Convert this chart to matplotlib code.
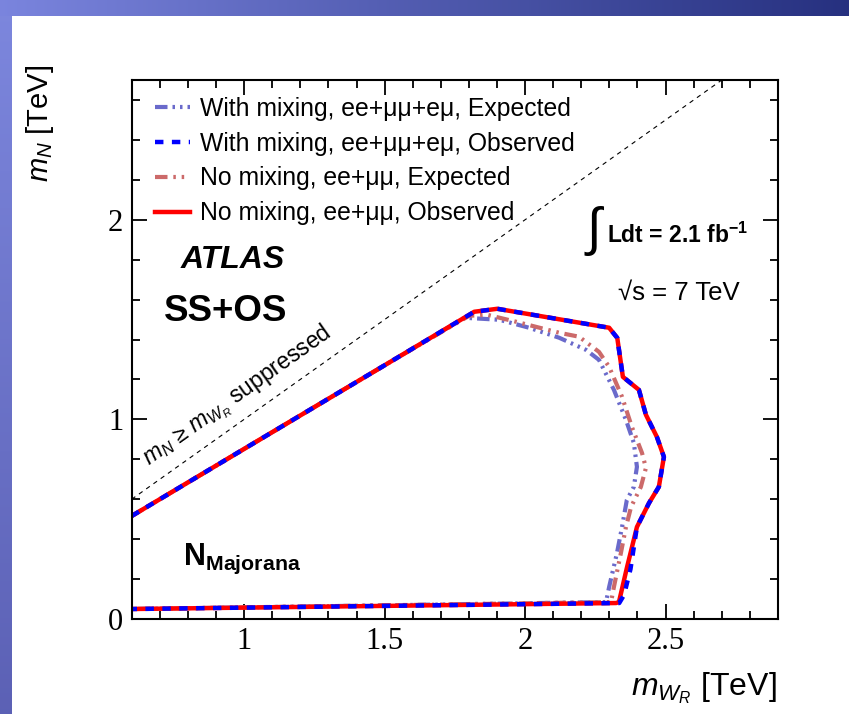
import numpy as np
import matplotlib
import matplotlib.pyplot as plt
from matplotlib.lines import Line2D

plt.switch_backend('agg')

plt.rcParams['font.family'] = ['Liberation Sans', 'DejaVu Sans']
plt.rcParams['mathtext.fontset'] = 'custom'
plt.rcParams['mathtext.rm'] = 'Liberation Sans'
plt.rcParams['mathtext.it'] = 'Liberation Sans:italic'
plt.rcParams['mathtext.bf'] = 'Liberation Sans:bold'

# exclusion contours in the (m_WR, m_N) plane, TeV
mix_obs_x = [0.60, 1.00, 1.50, 1.819, 1.901, 2.299, 2.328, 2.348, 2.405, 2.430, 2.469,
             2.494, 2.476, 2.441, 2.398, 2.375, 2.352, 2.335, 0.60]
mix_obs_y = [0.516, 0.852, 1.271, 1.539, 1.554, 1.459, 1.408, 1.213, 1.148, 1.023, 0.912,
             0.812, 0.662, 0.581, 0.461, 0.250, 0.120, 0.080, 0.050]

nomix_obs_x = [0.60, 1.00, 1.50, 1.819, 1.901, 2.299, 2.328, 2.348, 2.405, 2.430, 2.469,
               2.494, 2.476, 2.441, 2.398, 2.363, 2.334, 2.324, 0.60]
nomix_obs_y = [0.516, 0.852, 1.271, 1.539, 1.554, 1.459, 1.408, 1.213, 1.148, 1.023, 0.912,
               0.812, 0.662, 0.581, 0.461, 0.261, 0.085, 0.080, 0.050]

mix_exp_x = [0.60, 1.00, 1.50, 1.784, 1.908, 2.014, 2.121, 2.217, 2.263, 2.316, 2.359,
             2.387, 2.398, 2.387, 2.362, 2.345, 2.327, 2.299, 2.288, 0.60]
mix_exp_y = [0.516, 0.852, 1.271, 1.509, 1.499, 1.459, 1.409, 1.348, 1.298, 1.148, 0.997,
             0.882, 0.762, 0.662, 0.596, 0.461, 0.331, 0.160, 0.085, 0.050]

nomix_exp_x = [0.60, 1.00, 1.50, 1.801, 1.865, 1.968, 2.121, 2.192, 2.263, 2.299, 2.345,
               2.380, 2.416, 2.430, 2.412, 2.377, 2.359, 2.341, 2.316, 2.306, 0.60]
nomix_exp_y = [0.516, 0.852, 1.271, 1.519, 1.524, 1.489, 1.434, 1.414, 1.338, 1.263, 1.113,
               0.962, 0.832, 0.757, 0.662, 0.561, 0.461, 0.331, 0.160, 0.085, 0.050]

diag = [0.6, 2.7]

labels = ['With mixing, ee+μμ+eμ, Expected',
          'With mixing, ee+μμ+eμ, Observed',
          'No mixing, ee+μμ, Expected',
          'No mixing, ee+μμ, Observed']

fig = plt.figure(figsize=(8.49, 7.14), dpi=100)

# slide frame: gradient band on top and strip on the left
W, H = 849, 714
bg = np.ones((H, W, 3))
t = np.linspace(0, 1, W)[:, None]
bg[:16, :, :] = (np.array([0.48, 0.52, 0.87]) * (1 - t) + np.array([0.15, 0.19, 0.50]) * t)[None, :, :]
s = np.linspace(0, 1, H)[:, None]
bg[16:, :12, :] = ((np.array([0.49, 0.53, 0.87]) * (1 - s) + np.array([0.36, 0.38, 0.71]) * s)[16:, None, :])
bgax = fig.add_axes([0, 0, 1, 1], zorder=-1)
bgax.imshow(bg, aspect='auto', interpolation='bilinear')
bgax.axis('off')

ax = fig.add_axes([131.7 / W, 1 - 619 / H, (778 - 131.7) / W, (619 - 80) / H])

c_mix_exp = '#6a6acb'
c_nomix_exp = '#cc6a6a'
ls_mix_exp = (0, (3.0, 1.2, 0.6, 1.2, 0.6, 1.2, 0.6, 1.2))
ls_nomix_exp = (0, (3.0, 1.4, 0.6, 1.4, 0.6, 1.4))
ls_mix_obs = (0, (1.9, 1.9))

ax.plot(diag, diag, color='k', lw=0.8, ls=(0, (4, 4)))
ax.plot(mix_exp_x, mix_exp_y, color=c_mix_exp, lw=3.0, ls=ls_mix_exp)
ax.plot(nomix_exp_x, nomix_exp_y, color=c_nomix_exp, lw=3.0, ls=ls_nomix_exp)
ax.plot(nomix_obs_x, nomix_obs_y, color='#ff0000', lw=3.2)
ax.plot(mix_obs_x, mix_obs_y, color='#0000ff', lw=3.2, ls=ls_mix_obs)

ax.set_xlim(0.6, 2.9)
ax.set_ylim(0, 2.7)
ax.set_xticks([1, 1.5, 2, 2.5])
ax.set_xticklabels(['1', '1.5', '2', '2.5'])
ax.set_yticks([0, 1, 2])
ax.set_yticklabels(['0', '1', '2'])
ax.set_xticks(np.arange(0.6, 2.9, 0.1), minor=True)
ax.set_yticks(np.arange(0.2, 2.7, 0.2), minor=True)
ax.tick_params(which='both', direction='in', top=True, right=True, width=1.3)
ax.tick_params(which='major', length=11, pad=6, labelsize=22)
ax.tick_params(which='minor', length=6)
for lab in ax.get_xticklabels() + ax.get_yticklabels():
    lab.set_family('Liberation Serif')
for sp in ax.spines.values():
    sp.set_linewidth(1.5)

handles = [
    Line2D([], [], color=c_mix_exp, lw=3.0, ls=ls_mix_exp),
    Line2D([], [], color='#0000ff', lw=3.2, ls=ls_mix_obs),
    Line2D([], [], color=c_nomix_exp, lw=3.0, ls=ls_nomix_exp),
    Line2D([], [], color='#ff0000', lw=3.2),
]
ax.legend(handles, labels, loc='upper left', bbox_to_anchor=(0.036, 0.969),
          frameon=False, fontsize=17.8, handlelength=1.42, handletextpad=0.4,
          labelspacing=0.44, borderaxespad=0, borderpad=0)

ax.text(0.96, 1.80, 'ATLAS', fontsize=23, fontweight='bold', style='italic',
        ha='center', va='center')
ax.text(0.935, 1.54, 'SS+OS', fontsize=26.5, fontweight='bold', ha='center', va='center')
ax.text(0.783, 0.27, r'$\mathbf{N_{Majorana}}$', fontsize=22, ha='left', va='baseline')

ax.text(0.99, 1.09, '$m_{N}$ ≥ $m_{W_{R}}$ suppressed', fontsize=16.5,
        rotation=35.3, rotation_mode='anchor', ha='center', va='baseline')

ax.text(2.21, 1.875, r'$\int$', fontsize=38, ha='left', va='baseline')
ax.text(2.293, 1.885, r'Ldt = 2.1 fb$^{\mathbf{-1}}$', fontsize=16.5, fontweight='bold',
        ha='left', va='baseline')
ax.text(2.547, 1.60, '√s = 7 TeV', fontsize=18.5, ha='center', va='baseline')

fig.text(40 / W, 1 - 65 / H, r'$m_{N}$ [TeV]', fontsize=21, rotation=90,
         ha='center', va='top')
fig.text(777 / W, 1 - 695 / H, r'$m_{W_{R}}$ [TeV]', fontsize=23,
         ha='right', va='baseline')

fig.savefig('out.png', dpi=100)
